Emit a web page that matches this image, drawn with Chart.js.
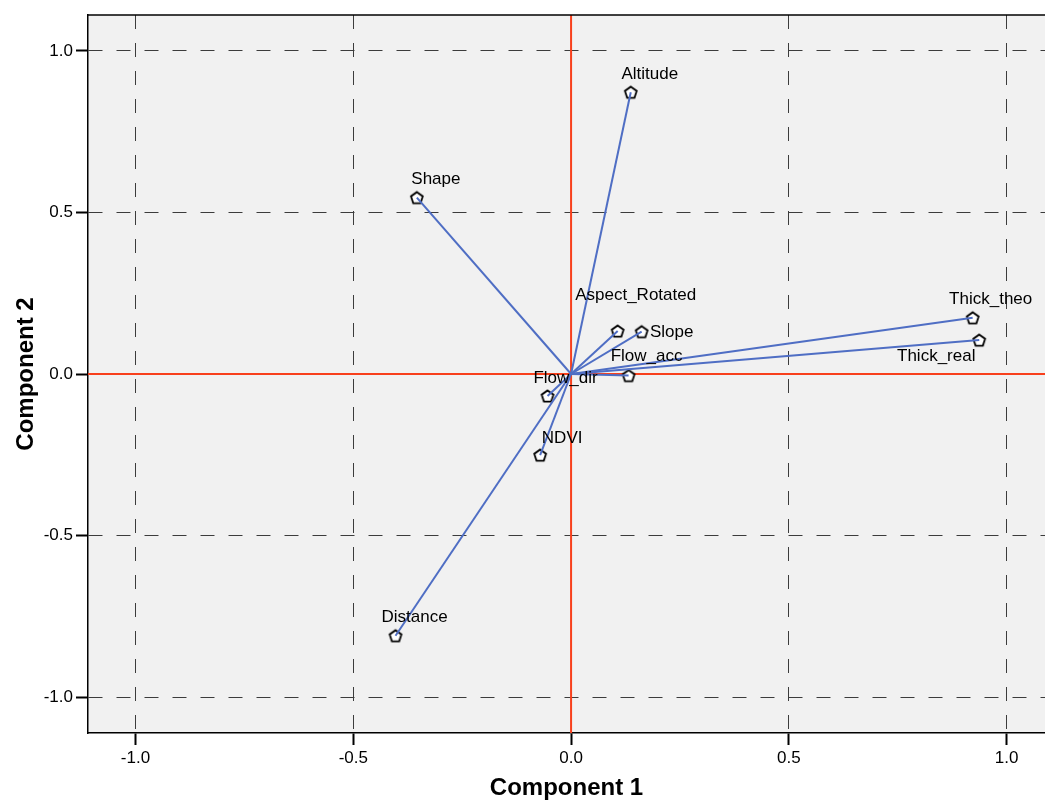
<!DOCTYPE html>
<html>
<head>
<meta charset="utf-8">
<script src="https://cdn.jsdelivr.net/npm/chart.js@4"></script>
<style>
  html, body { margin: 0; padding: 0; background: #fff; }
  #wrap { width: 1045px; height: 801px; }
</style>
</head>
<body>
<div id="wrap"><canvas id="loadingPlot" width="1045" height="801"></canvas></div>
<script>
// component loadings
var varNames = ['Altitude', 'Shape', 'Aspect_Rotated', 'Slope', 'Thick_theo', 'Thick_real', 'Flow_acc', 'Flow_dir', 'NDVI', 'Distance'];
var comp1 = [0.137, -0.354, 0.107, 0.162, 0.922, 0.937, 0.132, -0.054, -0.071, -0.403];
var comp2 = [0.872, 0.546, 0.133, 0.131, 0.174, 0.105, -0.005, -0.068, -0.251, -0.810];
var tickStep = 0.5;

// label placement relative to marker (pixels)
var labelOffsets = [[19, -18], [19, -18], [18, -36], [30, 1], [18, -18], [-43, 16], [18, -19], [18, -18], [22, -17], [19, -18]];

var FONT = '"Liberation Sans", Arial, sans-serif';

// pentagon marker
var pent = document.createElement('canvas');
pent.width = 16; pent.height = 16;
(function() {
    var c = pent.getContext('2d');
    c.beginPath();
    for (var k = 0; k < 5; k++) {
        var a = -Math.PI / 2 + k * 2 * Math.PI / 5;
        var px = 8 + 6.2 * Math.cos(a), py = 8.6 + 6.2 * Math.sin(a);
        if (k === 0) c.moveTo(px, py); else c.lineTo(px, py);
    }
    c.closePath();
    c.fillStyle = '#fff';
    c.fill();
    c.lineWidth = 1.8;
    c.strokeStyle = '#000';
    c.stroke();
})();

var datasets = [];
for (var i = 0; i < varNames.length; i++) {
    datasets.push({
        label: varNames[i],
        data: [{x: 0, y: 0}, {x: comp1[i], y: comp2[i]}],
        showLine: true,
        borderColor: '#4f6ec4',
        borderWidth: 2,
        pointRadius: 0
    });
}
datasets.push({
    label: 'markers',
    data: varNames.map(function(n, i) { return {x: comp1[i], y: comp2[i]}; }),
    showLine: false,
    pointStyle: pent,
    pointRadius: 7
});

var plotDeco = {
    id: 'plotDeco',
    beforeDraw: function(chart) {
        var ctx = chart.ctx, a = chart.chartArea;
        ctx.save();
        ctx.fillStyle = '#fff';
        ctx.fillRect(0, 0, chart.width, chart.height);
        ctx.fillStyle = '#f1f1f1';
        ctx.fillRect(a.left, a.top, a.right - a.left, a.bottom - a.top);
        ctx.restore();
    },
    beforeDatasetsDraw: function(chart) {
        var ctx = chart.ctx, a = chart.chartArea;
        var x0 = chart.scales.x.getPixelForValue(0);
        var y0 = chart.scales.y.getPixelForValue(0);
        ctx.save();
        ctx.strokeStyle = '#f8401c';
        ctx.lineWidth = 2;
        ctx.beginPath();
        ctx.moveTo(a.left, y0); ctx.lineTo(a.right, y0);
        ctx.moveTo(x0, a.top); ctx.lineTo(x0, a.bottom);
        ctx.stroke();
        ctx.restore();
    },
    afterDatasetsDraw: function(chart) {
        var ctx = chart.ctx;
        ctx.save();
        ctx.font = '17px ' + FONT;
        ctx.fillStyle = '#000';
        ctx.textAlign = 'center';
        ctx.textBaseline = 'middle';
        for (var i = 0; i < varNames.length; i++) {
            var px = chart.scales.x.getPixelForValue(comp1[i]);
            var py = chart.scales.y.getPixelForValue(comp2[i]);
            ctx.fillText(varNames[i], px + labelOffsets[i][0], py + labelOffsets[i][1]);
        }
        ctx.restore();
    },
    afterDraw: function(chart) {
        var ctx = chart.ctx, a = chart.chartArea;
        ctx.save();
        ctx.strokeStyle = '#000';
        ctx.lineWidth = 1.5;
        ctx.beginPath();
        ctx.moveTo(a.left, a.top); ctx.lineTo(a.right, a.top);
        ctx.stroke();
        ctx.restore();
    }
};

function gridColor(c) {
    return (c.tick && c.tick.value === 0) ? 'rgba(0,0,0,0)' : '#3c3c3c';
}

new Chart(document.getElementById('loadingPlot').getContext('2d'), {
    type: 'scatter',
    data: { datasets: datasets },
    plugins: [plotDeco],
    options: {
        responsive: false,
        animation: false,
        layout: { autoPadding: false, padding: { top: 15, right: 0, left: 0, bottom: 0 } },
        plugins: { legend: { display: false }, tooltip: { enabled: false } },
        scales: {
            x: {
                type: 'linear',
                min: -1.109,
                max: 1.088,
                afterFit: function(s) { s.height = 68; s.paddingLeft = 0; s.paddingRight = 0; },
                ticks: {
                    stepSize: tickStep,
                    includeBounds: false,
                    color: '#000',
                    padding: 3,
                    font: { family: FONT, size: 17 },
                    maxRotation: 0,
                    callback: function(v) { return v.toFixed(1); }
                },
                grid: { color: gridColor, lineWidth: 1, tickColor: '#000', tickWidth: 2, tickLength: 12 },
                border: { color: '#000', width: 1.5, dash: [14, 14] },
                title: {
                    display: true,
                    text: 'Component 1',
                    color: '#000',
                    font: { family: FONT, size: 24, weight: 'bold', lineHeight: 1 },
                    padding: { top: 0, bottom: 1 }
                }
            },
            y: {
                type: 'linear',
                min: -1.111,
                max: 1.111,
                afterFit: function(s) { s.width = 88; s.paddingTop = 0; s.paddingBottom = 0; },
                ticks: {
                    stepSize: tickStep,
                    includeBounds: false,
                    color: '#000',
                    padding: 3,
                    font: { family: FONT, size: 17 },
                    callback: function(v) { return v.toFixed(1); }
                },
                grid: { color: gridColor, lineWidth: 1, tickColor: '#000', tickWidth: 2, tickLength: 12 },
                border: { color: '#000', width: 1.5, dash: [14, 14] },
                title: {
                    display: true,
                    text: 'Component 2',
                    color: '#000',
                    font: { family: FONT, size: 24, weight: 'bold', lineHeight: 1 },
                    padding: { top: 14, bottom: 0 }
                }
            }
        }
    }
});
</script>
</body>
</html>
